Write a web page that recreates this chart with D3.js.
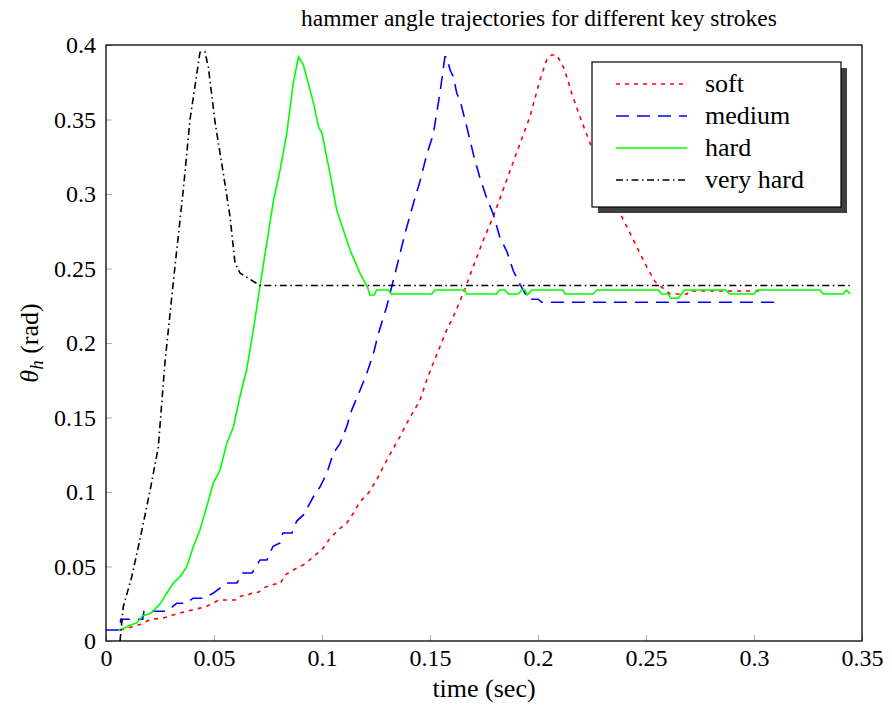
<!DOCTYPE html>
<html>
<head>
<meta charset="utf-8">
<script src="https://cdn.jsdelivr.net/npm/d3@7"></script>
<style>
  body { margin: 0; background: #fff; }
  svg text { font-family: "Liberation Serif", "Times New Roman", serif; fill: #000; }
</style>
</head>
<body>
<div id="chart"></div>
<script>
// tick values
var xTicks = [0, 0.05, 0.1, 0.15, 0.2, 0.25, 0.3, 0.35];
var yTicks = [0, 0.05, 0.1, 0.15, 0.2, 0.25, 0.3, 0.35, 0.4];
var seriesNames = ["soft", "medium", "hard", "very hard"];

// soft key stroke (time in sec, angle in rad)
var softT = [0.0065, 0.0083, 0.0120, 0.0157, 0.0207, 0.0259, 0.0338, 0.0398, 0.0462, 0.0523, 0.0597, 0.0628, 0.0651,
  0.0682, 0.0705, 0.0736, 0.0782, 0.0806, 0.0829, 0.0867, 0.0921, 0.0960, 0.0999, 0.1037, 0.1075, 0.1114, 0.1145,
  0.1176, 0.1214, 0.1253, 0.1284, 0.1330, 0.1361, 0.1392, 0.1423, 0.1454, 0.1485, 0.1515, 0.1546, 0.1577, 0.1608,
  0.1654, 0.1700, 0.1747, 0.1793, 0.1855, 0.1917, 0.1963, 0.2009, 0.2040, 0.2063, 0.2087, 0.2117, 0.2133, 0.2156,
  0.2194, 0.2241, 0.2300, 0.2372, 0.2411, 0.2457, 0.2503, 0.2542, 0.2580, 0.2611, 0.2690, 0.2700, 0.3037];
var softV = [0.0074, 0.0079, 0.0096, 0.0110, 0.0146, 0.0152, 0.0186, 0.0208, 0.0230, 0.0275, 0.0275, 0.0304, 0.0304,
  0.0327, 0.0327, 0.0360, 0.0383, 0.0383, 0.0443, 0.0477, 0.0517, 0.0566, 0.0611, 0.0689, 0.0745, 0.0790, 0.0857,
  0.0935, 0.0991, 0.1081, 0.1170, 0.1293, 0.1371, 0.1461, 0.1539, 0.1617, 0.1752, 0.1864, 0.1975, 0.2087, 0.2177,
  0.2334, 0.2512, 0.2691, 0.2848, 0.3094, 0.3340, 0.3519, 0.3765, 0.3899, 0.3933, 0.3933, 0.3854, 0.3787, 0.3676,
  0.3519, 0.3340, 0.3120, 0.2893, 0.2781, 0.2646, 0.2512, 0.2411, 0.2367, 0.2329, 0.2329, 0.2349, 0.2349];

// medium key stroke
var mediumT = [0, 0.0065, 0.0068, 0.0170, 0.0176, 0.0282, 0.0327, 0.0373, 0.0403, 0.0450, 0.0495, 0.0560, 0.0606,
  0.0634, 0.0676, 0.0713, 0.0745, 0.0773, 0.0806, 0.0819, 0.0861, 0.0883, 0.0914, 0.0960, 0.0991, 0.1022, 0.1052,
  0.1083, 0.1114, 0.1137, 0.1176, 0.1207, 0.1238, 0.1261, 0.1299, 0.1346, 0.1384, 0.1423, 0.1454, 0.1485, 0.1515,
  0.1546, 0.1569, 0.1577, 0.1593, 0.1608, 0.1624, 0.1639, 0.1670, 0.1701, 0.1731, 0.1762, 0.1793, 0.1824, 0.1855,
  0.1886, 0.1917, 0.1955, 0.2001, 0.2017, 0.3097];
var mediumV = [0.0074, 0.0074, 0.0146, 0.0146, 0.0200, 0.0200, 0.0253, 0.0253, 0.0287, 0.0287, 0.0320, 0.0389, 0.0389,
  0.0456, 0.0456, 0.0544, 0.0544, 0.0635, 0.0658, 0.0725, 0.0725, 0.0805, 0.0846, 0.0968, 0.1035, 0.1124, 0.1258,
  0.1325, 0.1437, 0.1548, 0.1683, 0.1795, 0.1929, 0.2063, 0.2242, 0.2510, 0.2734, 0.2936, 0.3087, 0.3266, 0.3400,
  0.3676, 0.3921, 0.3921, 0.3832, 0.3787, 0.3676, 0.3631, 0.3452, 0.3266, 0.3109, 0.2975, 0.2864, 0.2707, 0.2617,
  0.2483, 0.2394, 0.2294, 0.2294, 0.2273, 0.2273];

// hard key stroke
var hardT = [0.0060, 0.0083, 0.0114, 0.0145, 0.0168, 0.0207, 0.0230, 0.0253, 0.0276, 0.0312, 0.0343, 0.0374, 0.0404,
  0.0435, 0.0466, 0.0497, 0.0528, 0.0559, 0.0590, 0.0620, 0.0651, 0.0682, 0.0713, 0.0775, 0.0806, 0.0837, 0.0867,
  0.0891, 0.0914, 0.0961, 0.0984, 0.1000, 0.1037, 0.1068, 0.1099, 0.1130, 0.1176, 0.1210, 0.1222, 0.1242, 0.1253,
  0.1307, 0.1322, 0.1508, 0.1523, 0.1659, 0.1670, 0.1809, 0.1821, 0.1847, 0.1863, 0.1909, 0.1925, 0.1940, 0.1951,
  0.1971, 0.2115, 0.2125, 0.2256, 0.2272, 0.2557, 0.2572, 0.2603, 0.2614, 0.2649, 0.2665, 0.2677, 0.2870, 0.2886,
  0.3000, 0.3015, 0.3306, 0.3321, 0.3413, 0.3429, 0.3444];
var hardV = [0.0074, 0.0085, 0.0107, 0.0123, 0.0168, 0.0186, 0.0219, 0.0253, 0.0309, 0.0389, 0.0431, 0.0499, 0.0633,
  0.0745, 0.0901, 0.1060, 0.1148, 0.1326, 0.1438, 0.1639, 0.1819, 0.2087, 0.2383, 0.2953, 0.3161, 0.3409, 0.3743,
  0.3921, 0.3866, 0.3608, 0.3451, 0.3407, 0.3139, 0.2893, 0.2758, 0.2624, 0.2467, 0.2377, 0.2322, 0.2322, 0.2356,
  0.2356, 0.2329, 0.2329, 0.2356, 0.2356, 0.2329, 0.2329, 0.2356, 0.2356, 0.2329, 0.2329, 0.2356, 0.2356, 0.2322,
  0.2356, 0.2356, 0.2329, 0.2329, 0.2356, 0.2356, 0.2329, 0.2329, 0.2300, 0.2300, 0.2329, 0.2356, 0.2356, 0.2329,
  0.2329, 0.2356, 0.2356, 0.2329, 0.2329, 0.2356, 0.2329];

// very hard key stroke
var veryHardT = [0.0065, 0.0080, 0.0119, 0.0157, 0.0204, 0.0242, 0.0273, 0.0319, 0.0358, 0.0389, 0.0435, 0.0458,
  0.0474, 0.0505, 0.0543, 0.0574, 0.0597, 0.0620, 0.0713, 0.3450];
var veryHardV = [0, 0.0230, 0.0430, 0.0680, 0.1010, 0.1300, 0.1870, 0.2510, 0.3030, 0.3500, 0.3950, 0.3955,
  0.3850, 0.3480, 0.3140, 0.2850, 0.2540, 0.2470, 0.2386, 0.2386];

var seriesT = [softT, mediumT, hardT, veryHardT];
var seriesV = [softV, mediumV, hardV, veryHardV];
var colors = ["#ff0000", "#0000ff", "#00ff00", "#000000"];
var dashes = ["4,5", "13,8", null, "7,3.5,1.5,3.5"];

var width = 892, height = 707;
//plot box edges (window.top is reserved, so use a prefix)
var pLeft = 106, pRight = 862, pTop = 45, pBottom = 641;

var svg = d3.select("#chart").append("svg")
  .attr("width", width)
  .attr("height", height);

var x = d3.scaleLinear().domain([0, 0.35]).range([pLeft, pRight]);
var y = d3.scaleLinear().domain([0, 0.4]).range([pBottom, pTop]);

function fmt(d) {
  return d === 0 ? "0" : String(+d.toFixed(2));
}

//axes with inward gray ticks
var xAxis = svg.append("g")
  .attr("transform", "translate(0," + pBottom + ")")
  .call(d3.axisBottom(x).tickValues(xTicks).tickFormat(fmt).tickSizeInner(-6).tickSizeOuter(0).tickPadding(8));
var yAxis = svg.append("g")
  .attr("transform", "translate(" + pLeft + ",0)")
  .call(d3.axisLeft(y).tickValues(yTicks).tickFormat(fmt).tickSizeInner(-6).tickSizeOuter(0).tickPadding(10));

[xAxis, yAxis].forEach(function(g) {
  g.select(".domain").remove();
  g.selectAll(".tick line").attr("stroke", "#b0b0b0").attr("stroke-width", 1);
  g.selectAll(".tick text")
    .attr("font-family", "Liberation Serif")
    .attr("font-size", 24)
    .attr("fill", "#000");
});
xAxis.selectAll(".tick text").attr("dy", "0.72em");

svg.append("clipPath").attr("id", "plotClip")
  .append("rect")
  .attr("x", pLeft).attr("y", pTop - 2)
  .attr("width", pRight - pLeft).attr("height", pBottom - pTop + 2);

var line = d3.line()
  .x(function(d) { return x(d[0]); })
  .y(function(d) { return y(d[1]); })
  .curve(d3.curveLinear);

var plot = svg.append("g").attr("clip-path", "url(#plotClip)");
for (var i = 0; i < seriesT.length; ++i) {
  var pts = seriesT[i].map(function(t, j) { return [t, seriesV[i][j]]; });
  plot.append("path")
    .attr("d", line(pts))
    .attr("fill", "none")
    .attr("stroke", colors[i])
    .attr("stroke-width", 1.6)
    .attr("stroke-dasharray", dashes[i]);
}

// frame
svg.append("rect")
  .attr("x", pLeft).attr("y", pTop)
  .attr("width", pRight - pLeft).attr("height", pBottom - pTop)
  .attr("fill", "none")
  .attr("stroke", "#000")
  .attr("stroke-width", 1.3);

// title and axis labels
svg.append("text")
  .attr("x", 539).attr("y", 26)
  .attr("text-anchor", "middle")
  .attr("font-size", 23.5)
  .text("hammer angle trajectories for different key strokes");

svg.append("text")
  .attr("x", (pLeft + pRight) / 2).attr("y", 697)
  .attr("text-anchor", "middle")
  .attr("font-size", 26)
  .text("time (sec)");

var yl = svg.append("text")
  .attr("transform", "translate(38,343) rotate(-90)")
  .attr("text-anchor", "middle")
  .attr("font-size", 26);
yl.append("tspan").attr("font-style", "italic").text("θ");
yl.append("tspan").attr("font-style", "italic").attr("font-size", 19).attr("dy", 5).text("h");
yl.append("tspan").attr("dy", -5).text(" (rad)");

// legend with drop shadow
var lg = svg.append("g");
lg.append("rect")
  .attr("x", 598).attr("y", 68).attr("width", 249).attr("height", 145)
  .attr("fill", "#404040");
lg.append("rect")
  .attr("x", 592).attr("y", 62).attr("width", 249).attr("height", 145)
  .attr("fill", "#fff").attr("stroke", "#000").attr("stroke-width", 1.2);
for (var k = 0; k < seriesNames.length; ++k) {
  var ly = 84 + k * 32;
  lg.append("line")
    .attr("x1", 616).attr("x2", 687).attr("y1", ly).attr("y2", ly)
    .attr("stroke", colors[k]).attr("stroke-width", 1.6)
    .attr("stroke-dasharray", dashes[k]);
  lg.append("text")
    .attr("x", 705).attr("y", ly + 8)
    .attr("font-size", 26)
    .text(seriesNames[k]);
}
</script>
</body>
</html>
